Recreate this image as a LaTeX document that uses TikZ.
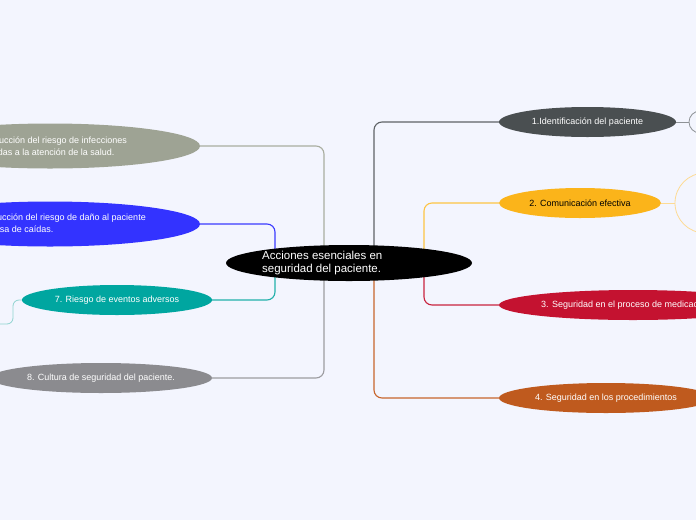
\documentclass[tikz,border=0pt]{standalone}
\usepackage{fontspec}
\setmainfont{Liberation Sans}
\usetikzlibrary{shapes.geometric}
\pgfdeclarelayer{bgl}
\pgfdeclarelayer{back}
\pgfsetlayers{bgl,back,main}
\definecolor{bgc}{HTML}{F3F5FE}
\definecolor{c1}{HTML}{4A4F51}
\definecolor{c2}{HTML}{FBB41A}
\definecolor{c3}{HTML}{C41230}
\definecolor{c4}{HTML}{BF5A1E}
\definecolor{c5}{HTML}{9EA394}
\definecolor{c6}{HTML}{3333FF}
\definecolor{c7}{HTML}{00A6A0}
\definecolor{c8}{HTML}{8B8B8F}
\definecolor{l1}{HTML}{5E6366}
\definecolor{l2}{HTML}{FDC444}
\definecolor{l3}{HTML}{C8233F}
\definecolor{l4}{HTML}{C7652C}
\definecolor{l5}{HTML}{A9AD9F}
\definecolor{l6}{HTML}{3A3AFF}
\definecolor{l7}{HTML}{22B0AB}
\definecolor{l8}{HTML}{9C9CA0}
\definecolor{k1}{HTML}{8E9296}
\definecolor{k2}{HTML}{FDDB94}
\definecolor{k7}{HTML}{8FD3D0}
\begin{document}
\begin{tikzpicture}[x=1pt,y=-1pt,
  topic/.style={ellipse, inner sep=0pt, minimum height=30pt, text=white, font=\fontsize{9}{11}\selectfont},
  bigtopic/.style={ellipse, inner sep=0pt, minimum height=45pt},
  lbl/.style={inner sep=0pt, text=white, font=\fontsize{9}{11.5}\selectfont, align=left},
  link/.style={line width=1.1pt, rounded corners=8pt},
  thinlink/.style={line width=0.8pt, rounded corners=6pt},
  sub/.style={circle, draw, line width=0.8pt, inner sep=0pt}]
\useasboundingbox (0,0) rectangle (696,520);
\begin{pgfonlayer}{bgl}
\fill[bgc] (0,0) rectangle (696,520);
\end{pgfonlayer}
\clip (0,0) rectangle (696,520);

% central
\node[ellipse, fill=black, minimum width=246pt, minimum height=36pt, inner sep=0pt] (main) at (349,263) {};
\node[anchor=west, align=left, text=white, inner sep=0pt, font=\fontsize{11.5}{13.5}\selectfont] (maintext) at (262,263) {Acciones esenciales en\\seguridad del paciente.};

% right side
\node[topic, fill=c1, minimum width=177pt] (n1) at (587.5,122) {1.Identificación del paciente};
\node[sub, draw=k1, minimum size=22pt] (s1) at (700,122) {};
\node[topic, fill=c2, minimum width=162pt, text=black] (n2) at (580,203) {2. Comunicación efectiva};
\node[sub, draw=k2, minimum size=60pt] (s2) at (705,203) {};
\node[topic, fill=c3, minimum width=268pt] (n3) at (633,305) {};
\node[lbl, anchor=west] (t3) at (541,305) {3. Seguridad en el proceso de medicación};
\node[topic, fill=c4, minimum width=214pt] (n4) at (606,398) {4. Seguridad en los procedimientos};

% left side
\node[bigtopic, fill=c5, minimum width=300pt] (n5) at (50,146) {};
\node[lbl, anchor=east] (t5) at (127,146) {5. Reducción del riesgo de infecciones\\asociadas a la atención de la salud.};
\node[bigtopic, fill=c6, minimum width=300pt] (n6) at (50,224) {};
\node[lbl, anchor=east] (t6) at (146,224) {6. Reducción del riesgo de daño al paciente\\por causa de caídas.};
\node[topic, fill=c7, minimum width=190pt] (n7) at (117,300) {7. Riesgo de eventos adversos};
\node[topic, fill=c8, minimum width=222pt] (n8) at (101,378) {8. Cultura de seguridad del paciente.};
\coordinate (x7) at (-6,324);

\begin{pgfonlayer}{back}
\draw[link, l1] ([xshift=25pt]main.center) |- (n1.west);
\draw[link, l2] ([xshift=75pt]main.center) |- (n2.west);
\draw[link, l3] ([xshift=75pt]main.center) |- (n3.west);
\draw[link, l4] ([xshift=25pt]main.center) |- (n4.west);
\draw[link, l5] ([xshift=-25pt]main.center) |- (n5.east);
\draw[link, l6] ([xshift=-74pt]main.center) |- (n6.east);
\draw[link, l7] ([xshift=-74pt]main.center) |- (n7.east);
\draw[link, l8] ([xshift=-25pt]main.center) |- (n8.east);
\draw[line width=0.8pt, k1] (n1.east) -- (s1.west);
\draw[line width=0.8pt, k2] (n2.east) -- (s2.west);
\draw[thinlink, k7] (n7.west) -- (13,300) |- (x7);
\end{pgfonlayer}
\end{tikzpicture}
\end{document}
